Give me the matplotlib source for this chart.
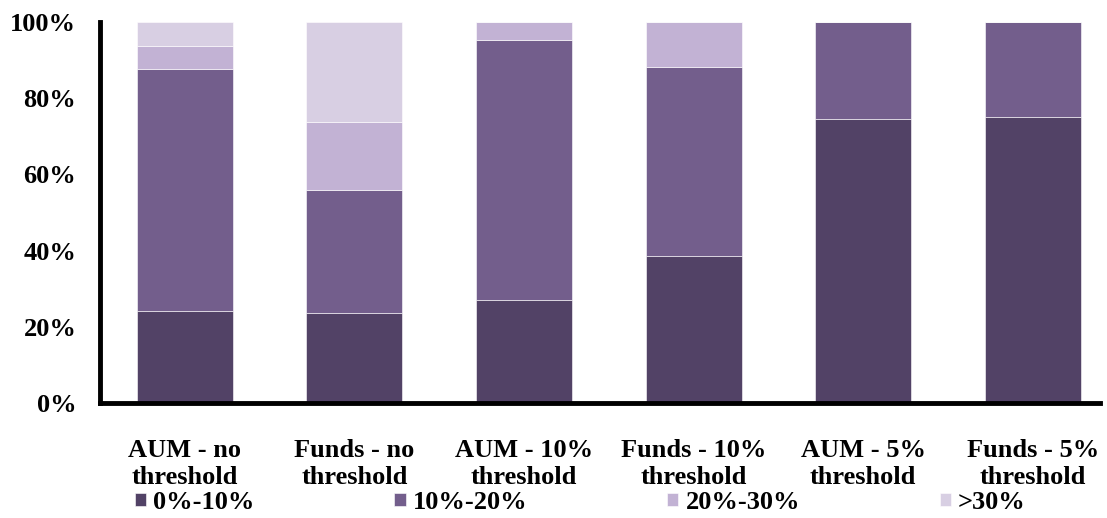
import numpy as np
import matplotlib
matplotlib.use("Agg")
import matplotlib.pyplot as plt

# categories and stacked shares (%)
categories = ["AUM - no\nthreshold", "Funds - no\nthreshold", "AUM - 10%\nthreshold",
              "Funds - 10%\nthreshold", "AUM - 5%\nthreshold", "Funds - 5%\nthreshold"]
series_names = ["0%-10%", "10%-20%", "20%-30%", ">30%"]
s0_10 = [24.1, 23.6, 27.0, 38.6, 74.5, 75.1]
s10_20 = [63.6, 32.3, 68.3, 49.6, 25.5, 24.9]
s20_30 = [6.0, 17.9, 4.7, 11.8, 0.0, 0.0]
s30 = [6.3, 26.2, 0.0, 0.0, 0.0, 0.0]
colors = ["#524266", "#735e8c", "#c2b2d4", "#d8cfe3"]

plt.rcParams['font.family'] = ['Liberation Serif', 'DejaVu Serif']
plt.rcParams['font.weight'] = 'bold'
fs = 19

fig = plt.figure(figsize=(11.07, 5.18), dpi=100)
ax = fig.add_axes([0.0903, 0.222, 0.9034, 0.7355])

x = np.arange(len(categories))
bottom = np.zeros(len(categories))
for name, vals, c in zip(series_names, [s0_10, s10_20, s20_30, s30], colors):
    ax.bar(x, vals, 0.566, bottom=bottom, color=c, label=name,
           edgecolor="white", linewidth=0.4)
    bottom += np.array(vals)

ax.set_xlim(-0.5, 5.396)
ax.set_ylim(0, 100)
ax.set_yticks([0, 20, 40, 60, 80, 100])
ax.set_yticklabels(["0%", "20%", "40%", "60%", "80%", "100%"], fontsize=fs, fontweight='bold')
ax.set_xticks(x)
ax.set_xticklabels(categories, fontsize=fs, fontweight='bold', linespacing=1.22)
ax.tick_params(axis='both', length=0)
ax.tick_params(axis='y', pad=17)
ax.tick_params(axis='x', pad=26)

for s in ['top', 'right']:
    ax.spines[s].set_visible(False)
for s in ['left', 'bottom']:
    ax.spines[s].set_linewidth(3.5)

leg = fig.legend(loc='center left', bbox_to_anchor=(0.122, 0.03), ncol=4,
                 frameon=False, fontsize=fs, handlelength=0.42, handleheight=0.42,
                 handletextpad=0.27, columnspacing=5.3, borderpad=0, borderaxespad=0)

fig.savefig("out.png", dpi=100)
